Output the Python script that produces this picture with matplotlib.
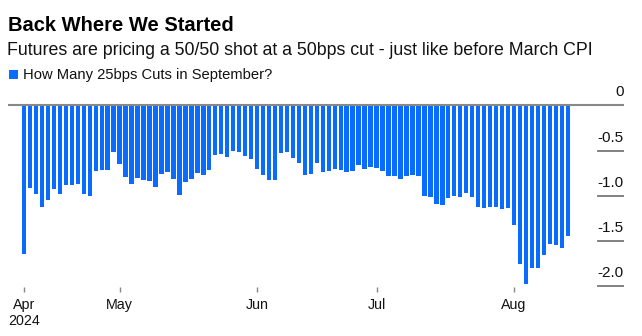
import matplotlib
matplotlib.use("Agg")
import matplotlib.pyplot as plt
from matplotlib.patches import Rectangle
import numpy as np
import pandas as pd

plt.rcParams['font.family'] = ['Liberation Sans', 'DejaVu Sans']

# Business days from Apr 9 to Aug 14, 2024
dates = pd.bdate_range("2024-04-09", "2024-08-14")
cuts = [
    -1.64, -0.91, -0.98, -1.13, -1.05, -0.92, -0.98, -0.88, -0.88, -0.87,
    -0.98, -1.00, -0.73, -0.72, -0.72, -0.52, -0.65, -0.79, -0.87, -0.80,
    -0.83, -0.84, -0.90, -0.76, -0.74, -0.81, -0.99, -0.85, -0.82, -0.75,
    -0.77, -0.72, -0.55, -0.54, -0.57, -0.50, -0.52, -0.56, -0.59, -0.70,
    -0.77, -0.83, -0.83, -0.53, -0.52, -0.58, -0.64, -0.77, -0.76, -0.64,
    -0.74, -0.73, -0.70, -0.71, -0.74, -0.73, -0.66, -0.70, -0.68, -0.69,
    -0.73, -0.78, -0.78, -0.82, -0.78, -0.77, -0.78, -1.00, -1.01, -1.09,
    -1.10, -1.03, -1.00, -1.01, -0.97, -1.01, -1.12, -1.14, -1.13, -1.13,
    -1.15, -1.14, -1.32, -1.76, -1.98, -1.80, -1.80, -1.66, -1.54, -1.55,
    -1.58, -1.45,
]
month_labels = ["Apr\n2024", "May", "Jun", "Jul", "Aug"]
ytick_vals = [0, -0.5, -1.0, -1.5, -2.0]
ytick_labels = ["0", "-0.5", "-1.0", "-1.5", "-2.0"]

title = "Back Where We Started"
subtitle = "Futures are pricing a 50/50 shot at a 50bps cut - just like before March CPI"
series_name = "How Many 25bps Cuts in September?"

BLUE = "#0a6cff"
W, H = 642, 336
fig = plt.figure(figsize=(W / 100, H / 100), dpi=100)

ax_left, ax_right = 8, 624
ax_top, ax_bottom = 95, 287
ax = fig.add_axes([ax_left / W, 1 - ax_bottom / H, (ax_right - ax_left) / W, (ax_bottom - ax_top) / H])

x = np.arange(len(dates))
ax.bar(x, cuts, width=0.74, color=BLUE, zorder=2)

ax.set_xlim(-2.686, 100.41)
ax.set_ylim(-2.011, 0.116)

for s in ax.spines.values():
    s.set_visible(False)

# zero line
ax.axhline(0, color="#888888", lw=1.5, zorder=3)
# right-side tick lines and labels
frac = (598 - ax_left) / (ax_right - ax_left)
for v, lab in zip(ytick_vals, ytick_labels):
    if v != 0:
        ax.axhline(v, xmin=frac, xmax=1, color="#777777", lw=1.3, zorder=3)
    ax.annotate(lab, xy=(1, v), xycoords=("axes fraction", "data"),
                xytext=(0, 9.4), textcoords="offset points",
                ha="right", va="center", fontsize=11, color="#111111")
ax.set_yticks([])

# month ticks at first business day of each month
months = dates.to_period("M")
first_idx = [i for i in range(len(dates)) if i == 0 or months[i] != months[i - 1]]
ax.set_xticks(first_idx)
ax.set_xticklabels(month_labels, fontsize=10.3, color="#111111", linespacing=1.15)
ax.tick_params(axis="x", length=3.6, width=1, color="#888888", pad=4.5)

# header
fig.text(8 / W, 1 - 31 / H, title, fontsize=14.5, fontweight="bold", color="#000000", va="baseline")
fig.text(7 / W, 1 - 55 / H, subtitle, fontsize=12.8, color="#111111", va="baseline")
fig.add_artist(Rectangle((9 / W, 1 - 79 / H), 9 / W, 9 / H, transform=fig.transFigure,
                         color=BLUE, lw=0))
fig.text(23 / W, 1 - 79.5 / H, series_name, fontsize=10.6, color="#111111", va="baseline")

fig.savefig("out.png", dpi=100)
